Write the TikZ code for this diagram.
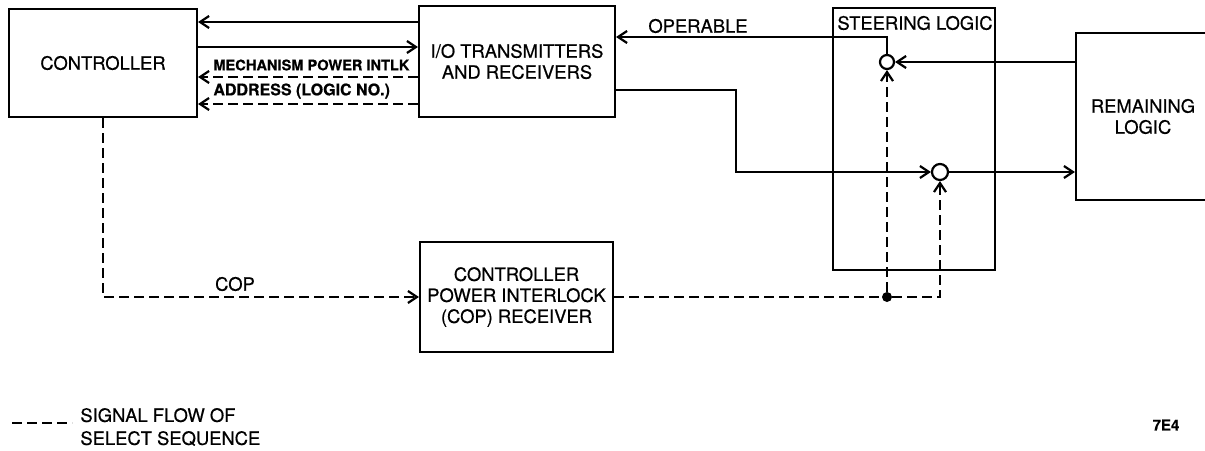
\documentclass[tikz,border=0pt]{standalone}
\usepackage{fontspec}
\setmainfont{TeX Gyre Heros}[FakeBold=0.5]
\usetikzlibrary{arrows.meta}
\begin{document}
\begin{tikzpicture}[x=0.5pt,y=-0.5pt]
    \tikzset{block/.style = {draw=black,line width=1.1pt,inner sep=0pt,align=center,font=\fontsize{9.2}{10.5}\selectfont},
      edge/.style = {line width=1.1pt,-{Straight Barb[length=4.5pt,width=6pt]}},
      sig/.style = {edge,dash pattern=on 5pt off 2.5pt},
      gate/.style = {shape=circle,draw=black,line width=1.1pt,inner sep=0pt},
      lbl/.style = {inner sep=0pt,font=\fontsize{9.2}{10.5}\selectfont},
      small/.style = {inner sep=0pt,anchor=west,font=\bfseries\fontsize{7.3}{8}\selectfont}}
    \useasboundingbox (0,0) rectangle (1205,450);
    % blocks
    \node[block,minimum width=94pt,minimum height=54pt] (ctrl) at (103,63) {CONTROLLER};
    \node[block,minimum width=98pt,minimum height=55.5pt] (io) at (517,61.5) {I/O TRANSMITTERS\\AND RECEIVERS};
    \node[block,minimum width=96.5pt,minimum height=55pt] (cop) at (516.5,297) {CONTROLLER\\POWER INTERLOCK\\(COP) RECEIVER};
    \node[block,minimum width=81pt,minimum height=131pt] (steer) at (914,139) {};
    \node[lbl] (steerlbl) at (915,23) {STEERING LOGIC};
    \node[block,minimum width=67pt,minimum height=83.5pt] (remain) at (1143,116.5) {REMAINING\\LOGIC};
    \node[gate,minimum size=7pt] (gA) at (887,62) {};
    \node[gate,minimum size=8pt] (gB) at (940,172) {};
    \node[circle,fill=black,inner sep=0pt,minimum size=5pt] (dot) at (887,297) {};
    % rows
    \coordinate (r1) at (0,22);
    \coordinate (r2) at (0,47);
    \coordinate (r3) at (0,77);
    \coordinate (r4) at (0,104);
    \coordinate (op) at (0,37);
    \coordinate (kink) at (736,90);
    % controller <-> i/o
    \draw[edge] (io.west|-r1) -- (ctrl.east|-r1);
    \draw[edge] (ctrl.east|-r2) -- (io.west|-r2);
    \draw[sig] (io.west|-r3) -- (ctrl.east|-r3);
    \draw[sig] (io.west|-r4) -- (ctrl.east|-r4);
    \node[small] (mech) at (213,65) {MECHANISM POWER INTLK};
    \node[small,font=\bfseries\fontsize{8}{9}\selectfont] (addr) at (213,91) {ADDRESS (LOGIC NO.)};
    % steering paths
    \draw[edge] (gA.north) |- (io.east|-op);
    \node[lbl] (oplbl) at (698,26) {OPERABLE};
    \draw[edge] (remain.west|-gA) -- (gA.east);
    \draw[edge] (io.east|-kink) -- (kink) |- (gB.west);
    \draw[edge] (gB.east) -- (remain.west|-gB);
    % select sequence
    \draw[sig] (ctrl.south) |- (cop.west);
    \node[lbl] (coplbl) at (235,284) {COP};
    \draw[sig,-] (cop.east) -- (dot);
    \draw[sig] (dot) -- (gA.south);
    \draw[sig] (dot) -| (gB.south);
    % legend
    \coordinate (lg) at (12,423);
    \draw[line width=1.1pt,dash pattern=on 5pt off 2.5pt] (lg) -- ++(60,0);
    \node[lbl,anchor=west,align=left,font=\fontsize{9.2}{11.5}\selectfont] (legend) at (80,427) {SIGNAL FLOW OF\\SELECT SEQUENCE};
    \node[lbl,font=\bfseries\fontsize{7.5}{8}\selectfont] (fig) at (1166,425) {7E4};
\end{tikzpicture}
\end{document}
